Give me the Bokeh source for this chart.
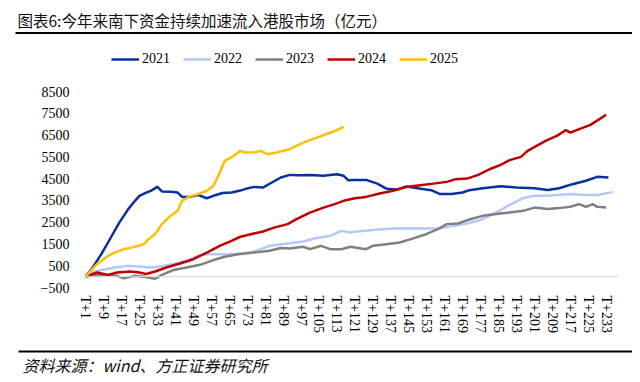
from bokeh.plotting import figure
from bokeh.layouts import column
from bokeh.models import (Range1d, FixedTicker, Span, Legend, LegendItem)
from bokeh.core.properties import value
from bokeh.embed import file_html
from bokeh.resources import INLINE

# ---------------- data (亿元, cumulative southbound inflow) ----------------
title_text = "图表6:今年来南下资金持续加速流入港股市场（亿元）"
source_text = "资料来源：wind、方正证券研究所"

days_2021 = [1, 4, 8, 12, 16, 20, 23, 25, 28, 30, 33, 35, 39, 42, 44, 47, 51, 55, 58,
             62, 66, 70, 73, 76, 80, 84, 88, 92, 97, 101, 107, 113, 116, 118, 121, 126,
             131, 135, 140, 144, 149, 155, 159, 164, 169, 172, 178, 186, 193, 201, 207,
             212, 218, 224, 229, 234]
vals_2021 = [0, 400, 1030, 1750, 2480, 3100, 3480, 3710, 3860, 3940, 4120, 3910, 3900,
             3860, 3660, 3660, 3750, 3600, 3710, 3840, 3860, 3950, 4050, 4120, 4090, 4320,
             4550, 4670, 4660, 4670, 4630, 4700, 4630, 4430, 4440, 4440, 4270, 4040, 4000,
             4135, 4060, 3970, 3790, 3790, 3860, 3970, 4060, 4150, 4090, 4060, 3980, 4060,
             4245, 4400, 4580, 4550]

days_2022 = [1, 4, 8, 14, 20, 26, 30, 35, 40, 46, 51, 55, 61, 66, 75, 79, 83, 91, 98,
             104, 110, 115, 119, 121, 129, 138, 146, 153, 159, 165, 171, 177, 184, 190,
             196, 201, 207, 211, 217, 223, 229, 236]
vals_2022 = [0, 200, 300, 420, 495, 450, 420, 480, 575, 725, 955, 1030, 1030, 1030, 1105,
             1260, 1415, 1520, 1610, 1770, 1870, 2100, 2025, 2055, 2135, 2210, 2225, 2210,
             2225, 2330, 2440, 2600, 2940, 3295, 3600, 3710, 3710, 3750, 3790, 3750, 3750,
             3880]

days_2023 = [1, 6, 11, 15, 18, 23, 27, 32, 35, 40, 46, 52, 58, 63, 69, 76, 83, 88, 92,
             98, 101, 106, 110, 115, 119, 121, 126, 129, 135, 141, 146, 152, 158, 162,
             167, 172, 178, 184, 190, 196, 201, 207, 212, 217, 221, 224, 227, 229, 233]
vals_2023 = [0, 60, 80, 35, -80, 35, -10, -100, 80, 300, 420, 540, 760, 910, 1030, 1105,
             1185, 1310, 1290, 1370, 1260, 1415, 1260, 1260, 1370, 1335, 1260, 1415, 1490,
             1565, 1720, 1920, 2180, 2410, 2440, 2620, 2790, 2870, 2940, 3020, 3170, 3100,
             3145, 3205, 3330, 3205, 3330, 3205, 3170]

days_2024 = [1, 6, 11, 15, 21, 25, 28, 32, 37, 43, 49, 55, 61, 66, 70, 76, 80, 85, 91,
             95, 101, 107, 112, 116, 121, 126, 132, 138, 144, 150, 156, 162, 166, 171,
             176, 181, 186, 190, 195, 198, 202, 206, 211, 215, 217, 221, 226, 230, 233]
vals_2024 = [0, 190, 80, 190, 235, 190, 120, 235, 420, 600, 800, 1105, 1420, 1640, 1830,
             1980, 2070, 2250, 2410, 2640, 2940, 3170, 3330, 3480, 3600, 3660, 3815, 3940,
             4120, 4200, 4270, 4350, 4475, 4500, 4670, 4930, 5130, 5350, 5500, 5775, 6005,
             6235, 6460, 6725, 6615, 6770, 6970, 7230, 7430]

days_2025 = [1, 6, 11, 14, 18, 23, 27, 29, 32, 35, 38, 42, 44, 47, 51, 55, 58, 60, 63,
             66, 70, 72, 76, 79, 82, 86, 92, 98, 104, 109, 113, 116]
vals_2025 = [0, 570, 955, 1105, 1260, 1370, 1490, 1720, 1950, 2410, 2710, 3020, 3480,
             3660, 3790, 3940, 4170, 4600, 5315, 5470, 5775, 5700, 5700, 5775, 5620, 5700,
             5850, 6155, 6385, 6570, 6725, 6875]

series_names = ["2021", "2022", "2023", "2024", "2025"]
series_colors = ["#0A2FA0", "#B4C8FA", "#808080", "#C00000", "#FFC000"]

y_ticks = list(range(-500, 8501, 1000))
x_ticks = list(range(1, 234, 8))
x_tick_labels = {d: "T+%d" % d for d in x_ticks}

W = 632
TEXT_COLOR = "#111111"


def blank_fig(h):
    f = figure(width=W, height=h, output_backend="svg", toolbar_location=None,
               x_range=Range1d(0, W), y_range=Range1d(h, 0),
               x_axis_location=None, y_axis_location=None,
               min_border=0, min_border_left=0, min_border_right=0,
               min_border_top=0, min_border_bottom=0, frame_align=False)
    f.outline_line_color = None
    f.grid.visible = False
    f.background_fill_color = "white"
    f.border_fill_color = "white"
    return f


# ---------------- header: title + rule ----------------
TOP_H = 41
head = blank_fig(TOP_H)
head.text(x=[17], y=[19.5], text=[title_text], text_baseline="middle", text_align="left",
          text_font=value("Noto Sans CJK SC"), text_font_size="15.5px",
          text_color=TEXT_COLOR)
head.quad(left=[15], right=[W], top=[31.5], bottom=[33.5],
          fill_color="black", line_color=None)

# ---------------- main chart ----------------
MAIN_H = 303
FRAME_LEFT, FRAME_RIGHT = 84, 618
FRAME_TOP_PAGE, FRAME_BOTTOM_PAGE = TOP_H, 287
Y8500_PAGE = 91
units_per_px = 9000 / (FRAME_BOTTOM_PAGE - Y8500_PAGE)
y_end = 8500 + (Y8500_PAGE - FRAME_TOP_PAGE) * units_per_px

p = figure(width=W, height=MAIN_H, output_backend="svg", toolbar_location=None,
           x_range=Range1d(0.5, 238.5), y_range=Range1d(-500, y_end),
           min_border_left=FRAME_LEFT, min_border_right=W - FRAME_RIGHT,
           min_border_top=0, min_border_bottom=TOP_H + MAIN_H - FRAME_BOTTOM_PAGE,
           frame_align=False)
p.outline_line_color = None
p.grid.visible = False
p.background_fill_color = "white"
p.border_fill_color = "white"

p.yaxis.ticker = FixedTicker(ticks=y_ticks)
p.yaxis.axis_line_color = None
p.yaxis.major_tick_line_color = None
p.yaxis.minor_tick_line_color = None
p.yaxis.major_tick_out = 0
p.yaxis.major_tick_in = 0
p.yaxis.minor_tick_out = 0
p.yaxis.major_label_standoff = 15
p.yaxis.major_label_text_font = "Liberation Serif"
p.yaxis.major_label_text_font_size = "14px"
p.yaxis.major_label_text_color = "black"

p.xaxis.ticker = FixedTicker(ticks=x_ticks)
p.xaxis.major_label_overrides = x_tick_labels
p.xaxis.major_label_orientation = "vertical"
p.xaxis.axis_line_color = None
p.xaxis.major_tick_line_color = None
p.xaxis.minor_tick_line_color = None
p.xaxis.major_tick_out = 0
p.xaxis.major_tick_in = 0
p.xaxis.minor_tick_out = 0
p.xaxis.major_label_standoff = 8
p.xaxis.major_label_text_font = "Liberation Serif"
p.xaxis.major_label_text_font_size = "14px"
p.xaxis.major_label_text_color = "black"

p.add_layout(Span(location=0, dimension="width", line_color="#d9d9d9", line_width=1))

all_days = [days_2021, days_2022, days_2023, days_2024, days_2025]
all_vals = [vals_2021, vals_2022, vals_2023, vals_2024, vals_2025]
items = []
for name, color, d, v in zip(series_names, series_colors, all_days, all_vals):
    r = p.line(d, v, line_color=color, line_width=2.5, line_join="round")
    items.append(LegendItem(label=name, renderers=[r]))

LEG_H = 14
legend = Legend(items=items, orientation="horizontal",
                location=(111 - FRAME_LEFT, FRAME_BOTTOM_PAGE - (59.5 + LEG_H / 2)),
                glyph_width=28, glyph_height=LEG_H, label_height=LEG_H,
                label_standoff=3, spacing=13, padding=0, margin=0,
                border_line_color=None, background_fill_alpha=0,
                label_text_font="Liberation Serif", label_text_font_size="14px",
                label_text_color="black")
p.add_layout(legend, "center")

# ---------------- footer: rule + source ----------------
BOT_H = 36
foot = blank_fig(BOT_H)
foot.quad(left=[18], right=[W], top=[6], bottom=[8], fill_color="black", line_color=None)
foot.text(x=[22], y=[20], text=[source_text], text_baseline="middle", text_align="left",
          text_font=value("Noto Sans CJK SC"), text_font_size="16px",
          text_font_style="italic", text_color=TEXT_COLOR)

layout = column(head, p, foot, spacing=0)
open("out.html", "w").write(file_html(layout, INLINE))
